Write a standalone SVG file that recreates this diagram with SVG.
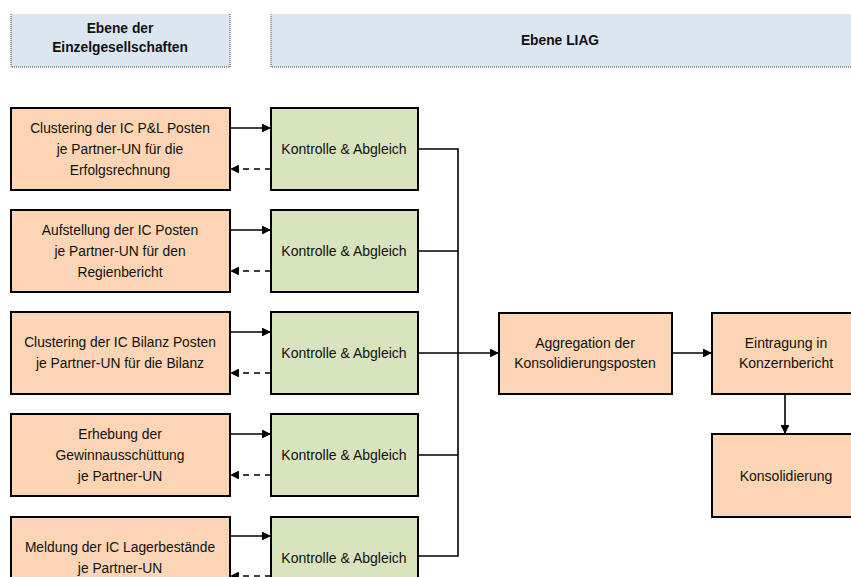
<svg xmlns="http://www.w3.org/2000/svg" width="851" height="577" viewBox="0 0 851 577">
<style>
.hdr{fill:#dce6f1;stroke:none}
.dot{fill:none;stroke:#444;stroke-width:1;stroke-dasharray:1 1}
.org{fill:#fcd5b4;stroke:#000;stroke-width:2}
.grn{fill:#d7e4bd;stroke:#000;stroke-width:2}
text{font-family:"Liberation Sans",Arial,sans-serif;font-size:14px;fill:#111;text-anchor:middle}
.s{font-size:13.8px}
.b{font-weight:bold;font-size:13.8px}
.ln{fill:none;stroke:#000;stroke-width:1.6}
.ds{stroke-dasharray:6 5}
</style>
<defs>
<marker id="ah" viewBox="0 0 10 10" refX="9" refY="5" markerWidth="5.5" markerHeight="5.5" orient="auto" markerUnits="strokeWidth">
<path d="M0,0 L10,5 L0,10 z" fill="#000"/>
</marker>
</defs>
<rect width="851" height="577" fill="#fff"/>
<g id="header-left">
<rect class="hdr" x="11" y="14" width="219" height="53"/>
<path class="dot" d="M11,14 V67 H230 V14"/>
<text class="b" x="120" y="33">Ebene der</text>
<text class="b" x="120" y="52">Einzelgesellschaften</text>
</g>
<g id="header-right">
<rect class="hdr" x="271" y="14" width="580" height="53"/>
<path class="dot" d="M271,14 V67 H851"/>
<text class="b" x="560" y="45">Ebene LIAG</text>
</g>
<g id="n1"><rect class="org" x="11" y="108" width="219" height="82"/>
<text class="s" x="120" y="133">Clustering der IC P&amp;L Posten</text>
<text class="s" x="120" y="154">je Partner-UN für die</text>
<text class="s" x="120" y="175">Erfolgsrechnung</text></g>
<g id="n2"><rect class="org" x="11" y="210" width="219" height="82"/>
<text class="s" x="120" y="235">Aufstellung der IC Posten</text>
<text class="s" x="120" y="256">je Partner-UN für den</text>
<text class="s" x="120" y="277">Regienbericht</text></g>
<g id="n3"><rect class="org" x="11" y="312" width="219" height="82"/>
<text class="s" x="120" y="347">Clustering der IC Bilanz Posten</text>
<text class="s" x="120" y="368">je Partner-UN für die Bilanz</text></g>
<g id="n4"><rect class="org" x="11" y="414" width="219" height="82"/>
<text class="s" x="120" y="439">Erhebung der</text>
<text class="s" x="120" y="460">Gewinnausschüttung</text>
<text class="s" x="120" y="481">je Partner-UN</text></g>
<g id="n5"><rect class="org" x="11" y="517" width="219" height="82"/>
<text class="s" x="120" y="552">Meldung der IC Lagerbestände</text>
<text class="s" x="120" y="573">je Partner-UN</text></g>
<g id="k1"><rect class="grn" x="271" y="108" width="147" height="82"/><text x="344" y="154">Kontrolle &amp; Abgleich</text></g>
<g id="k2"><rect class="grn" x="271" y="210" width="147" height="82"/><text x="344" y="256">Kontrolle &amp; Abgleich</text></g>
<g id="k3"><rect class="grn" x="271" y="312" width="147" height="82"/><text x="344" y="358">Kontrolle &amp; Abgleich</text></g>
<g id="k4"><rect class="grn" x="271" y="414" width="147" height="82"/><text x="344" y="460">Kontrolle &amp; Abgleich</text></g>
<g id="k5"><rect class="grn" x="271" y="517" width="147" height="82"/><text x="344" y="563">Kontrolle &amp; Abgleich</text></g>
<g id="agg"><rect class="org" x="499" y="313" width="173" height="81"/>
<text x="585" y="348">Aggregation der</text>
<text x="585" y="368">Konsolidierungsposten</text></g>
<g id="eintr"><rect class="org" x="712" y="313" width="148" height="81"/>
<text x="786" y="348">Eintragung in</text>
<text x="786" y="368">Konzernbericht</text></g>
<g id="kons"><rect class="org" x="712" y="434" width="148" height="83"/>
<text x="786" y="481">Konsolidierung</text></g>
<g id="connectors">
<line class="ln" x1="230" y1="128" x2="270" y2="128" marker-end="url(#ah)"/>
<line class="ln ds" x1="271" y1="169" x2="231" y2="169" marker-end="url(#ah)"/>
<line class="ln" x1="230" y1="230" x2="270" y2="230" marker-end="url(#ah)"/>
<line class="ln ds" x1="271" y1="271" x2="231" y2="271" marker-end="url(#ah)"/>
<line class="ln" x1="230" y1="332" x2="270" y2="332" marker-end="url(#ah)"/>
<line class="ln ds" x1="271" y1="373" x2="231" y2="373" marker-end="url(#ah)"/>
<line class="ln" x1="230" y1="434" x2="270" y2="434" marker-end="url(#ah)"/>
<line class="ln ds" x1="271" y1="475" x2="231" y2="475" marker-end="url(#ah)"/>
<line class="ln" x1="230" y1="536" x2="270" y2="536" marker-end="url(#ah)"/>
<line class="ln ds" x1="271" y1="576" x2="231" y2="576" marker-end="url(#ah)"/>
<path class="ln" d="M418,149 H458 V556 H418"/>
<path class="ln" d="M418,251 H458 M418,353 H458 M418,455 H458"/>
<line class="ln" x1="458" y1="353" x2="498" y2="353" marker-end="url(#ah)"/>
<line class="ln" x1="672" y1="353" x2="711" y2="353" marker-end="url(#ah)"/>
<line class="ln" x1="785" y1="394" x2="785" y2="433" marker-end="url(#ah)"/>
</g>
</svg>
